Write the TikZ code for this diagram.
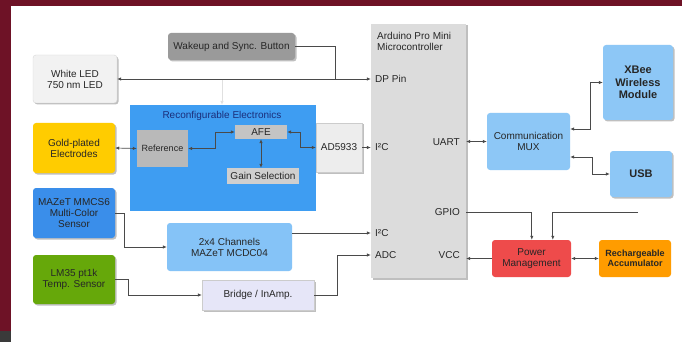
\documentclass[tikz,border=0pt]{standalone}
\usepackage{fontspec}
\setmainfont{Liberation Sans}
\usepackage{xcolor}
\usepackage{tikz}
\usetikzlibrary{arrows.meta,calc,shadows}
\definecolor{framered}{HTML}{6E1226}
\definecolor{cornergray}{HTML}{3A3A3A}
\definecolor{btngray}{HTML}{9A9A9A}
\definecolor{mcugray}{HTML}{DCDCDC}
\definecolor{ledwhite}{HTML}{F2F2F2}
\definecolor{reconblue}{HTML}{3E9DF2}
\definecolor{refgray}{HTML}{B9B9B9}
\definecolor{afegray}{HTML}{C4C4C4}
\definecolor{gaingray}{HTML}{CFCFCF}
\definecolor{adgray}{HTML}{EDEDED}
\definecolor{goldyellow}{HTML}{FFCC00}
\definecolor{sensorblue}{HTML}{3A8EEA}
\definecolor{tempgreen}{HTML}{66A80A}
\definecolor{mcdcblue}{HTML}{85C3F7}
\definecolor{bridgelav}{HTML}{E6E6F8}
\definecolor{muxblue}{HTML}{8DC7F6}
\definecolor{powerred}{HTML}{EE4B4B}
\definecolor{accuorange}{HTML}{FF9C00}
\definecolor{titledark}{HTML}{1B2E7A}
\definecolor{wiregray}{HTML}{4A4A4A}

\begin{document}
\begin{tikzpicture}[x=1pt,y=-1pt,>={Latex[length=4pt,width=3.5pt]},
  box/.style={rounded corners=3pt,align=center,inner sep=1pt,
    font=\fontsize{10}{11}\selectfont,text=black!85},
  boxshadow/.style={drop shadow={shadow xshift=1.5pt,shadow yshift=-1.5pt,fill=black,opacity=.25}},
  pinlabel/.style={inner sep=1pt,font=\fontsize{10}{11}\selectfont,text=black!85},
  wire/.style={draw=wiregray,line width=.7pt}]
  % Frame
  \fill[framered] (0,0) rectangle (682,342);
  \fill[white] (11,6) rectangle (682,342);
  \fill[cornergray] (0,331) rectangle (11,342);
  \useasboundingbox (0,0) rectangle (682,342);

  % Left column: LED, electrodes, sensors
  \node[box,boxshadow,fill=ledwhite,draw=black!15,minimum width=84pt,minimum height=48pt] (led) at (75,79) {White LED\\750 nm LED};
  \node[box,boxshadow,fill=goldyellow,minimum width=82pt,minimum height=50pt] (gold) at (74,148) {Gold-plated\\Electrodes};
  \node[box,boxshadow,fill=sensorblue,minimum width=82pt,minimum height=50pt] (mmcs) at (74,213) {MAZeT MMCS6\\Multi-Color\\Sensor};
  \node[box,boxshadow,fill=tempgreen,minimum width=82pt,minimum height=49pt] (temp) at (74,279.5) {LM35 pt1k\\Temp. Sensor};

  % Reconfigurable electronics
  \node[box,rounded corners=0pt,fill=reconblue,minimum width=186pt,minimum height=106pt] (recon) at (223,158) {};
  \node[pinlabel,text=titledark] (recontitle) at (222,116) {Reconfigurable Electronics};
  \node[box,rounded corners=0pt,fill=refgray,minimum width=51pt,minimum height=37pt,font=\fontsize{9}{10}\selectfont] (ref) at (162.5,148.5) {Reference};
  \node[box,rounded corners=0pt,fill=afegray,minimum width=52pt,minimum height=14pt] (afe) at (261,132) {AFE};
  \node[box,rounded corners=0pt,fill=gaingray,minimum width=72pt,minimum height=16pt] (gain) at (263,176) {Gain Selection};
  \node[box,boxshadow,rounded corners=0pt,fill=adgray,draw=black!20,minimum width=46pt,minimum height=49pt] (ad) at (339,147.5) {AD5933};

  % Button and microcontroller
  \node[box,boxshadow,fill=btngray,minimum width=127pt,minimum height=27pt] (button) at (231.5,46.5) {Wakeup and Sync. Button};
  \node[box,boxshadow,rounded corners=0pt,fill=mcugray,minimum width=95pt,minimum height=254pt] (mcu) at (418.5,151) {};
  \node[pinlabel,anchor=north west,align=left] (mcutitle) at (376,31) {Arduino Pro Mini\\Microcontroller};
  \node[pinlabel,anchor=west] (dppin) at (374,79) {DP Pin};
  \node[pinlabel,anchor=west] (i2ctop) at (374,147) {I²C};
  \node[pinlabel,anchor=east] (uart) at (461,142) {UART};
  \node[pinlabel,anchor=east] (gpio) at (461,212) {GPIO};
  \node[pinlabel,anchor=west] (i2cbot) at (374,233) {I²C};
  \node[pinlabel,anchor=west] (adc) at (374,255) {ADC};
  \node[pinlabel,anchor=east] (vcc) at (461,255) {VCC};

  % Bottom converters
  \node[box,fill=mcdcblue,minimum width=125pt,minimum height=48pt] (mcdc) at (229.5,247) {2x4 Channels\\MAZeT MCDC04};
  \node[box,boxshadow,rounded corners=0pt,fill=bridgelav,draw=black!20,minimum width=112pt,minimum height=30pt] (bridge) at (258,295) {Bridge / InAmp.};

  % Right column: communication and power
  \node[box,fill=muxblue,minimum width=83pt,minimum height=57pt] (mux) at (528.5,141.5) {Communication\\MUX};
  \node[box,boxshadow,fill=muxblue,minimum width=70pt,minimum height=75pt,font=\fontsize{11}{12.5}\selectfont\bfseries] (xbee) at (638,82.5) {XBee\\Wireless\\Module};
  \node[box,boxshadow,fill=muxblue,minimum width=62pt,minimum height=46pt,font=\fontsize{11}{12.5}\selectfont\bfseries] (usb) at (641,174) {USB};
  \node[box,fill=powerred,minimum width=79pt,minimum height=37pt] (power) at (531.5,258.5) {Power\\Management};
  \node[box,fill=accuorange,minimum width=72pt,minimum height=37pt,font=\fontsize{9}{10.5}\selectfont\bfseries] (acc) at (635,258.5) {Rechargeable\\Accumulator};

  % Connectors
  \coordinate (btnjoin) at (335,80);
  \coordinate (ledtap) at (222,80);
  \coordinate (usbtap) at (638,212);
  \draw[wire,<->] (led.east) -- (led.east -| mcu.west);
  \draw[wire] (button.east) -| (btnjoin);
  \draw[wire,draw=black!12,->] (ledtap) -- (ledtap |- recon.north);
  \draw[wire,<->] (gold.east) -- (ref.west);
  \draw[wire,<->] (ref.east) -- ++(27,0) |- (afe.west);
  \draw[wire,<->] (afe.east) -- ++(13,0) |- (ad.west);
  \draw[wire,<->] (afe.south) -- (afe.south |- gain.north);
  \draw[wire,->] (ad.east) -- (ad.east -| mcu.west);
  \draw[wire,->] (mmcs.east) -- ++(9,0) |- (mcdc.west);
  \draw[wire,->] (temp.east) -- ++(13,0) |- (bridge.west);
  \draw[wire,->] (mcdc.east |- i2cbot) -- (i2cbot.west -| mcu.west);
  \draw[wire,->] (bridge.east) -- ++(23,0) |- (adc.west -| mcu.west);
  \draw[wire,<->] (mux.west -| mcu.east) -- (mux.west);
  \draw[wire,<->] ([yshift=12.5pt]mux.east) -- ++(20,0) |- (xbee.west);
  \draw[wire,<->] ([yshift=-15.5pt]mux.east) -- ++(22,0) |- (usb.west);
  \draw[wire,->] (gpio.east -| mcu.east) -| ([xshift=40pt]power.north west);
  \draw[wire,->] (usbtap) -| ([xshift=61pt]power.north west);
  \draw[wire,->] (power.west) -- (power.west -| mcu.east);
  \draw[wire,<->] (power.east) -- (acc.west);
\end{tikzpicture}
\end{document}
